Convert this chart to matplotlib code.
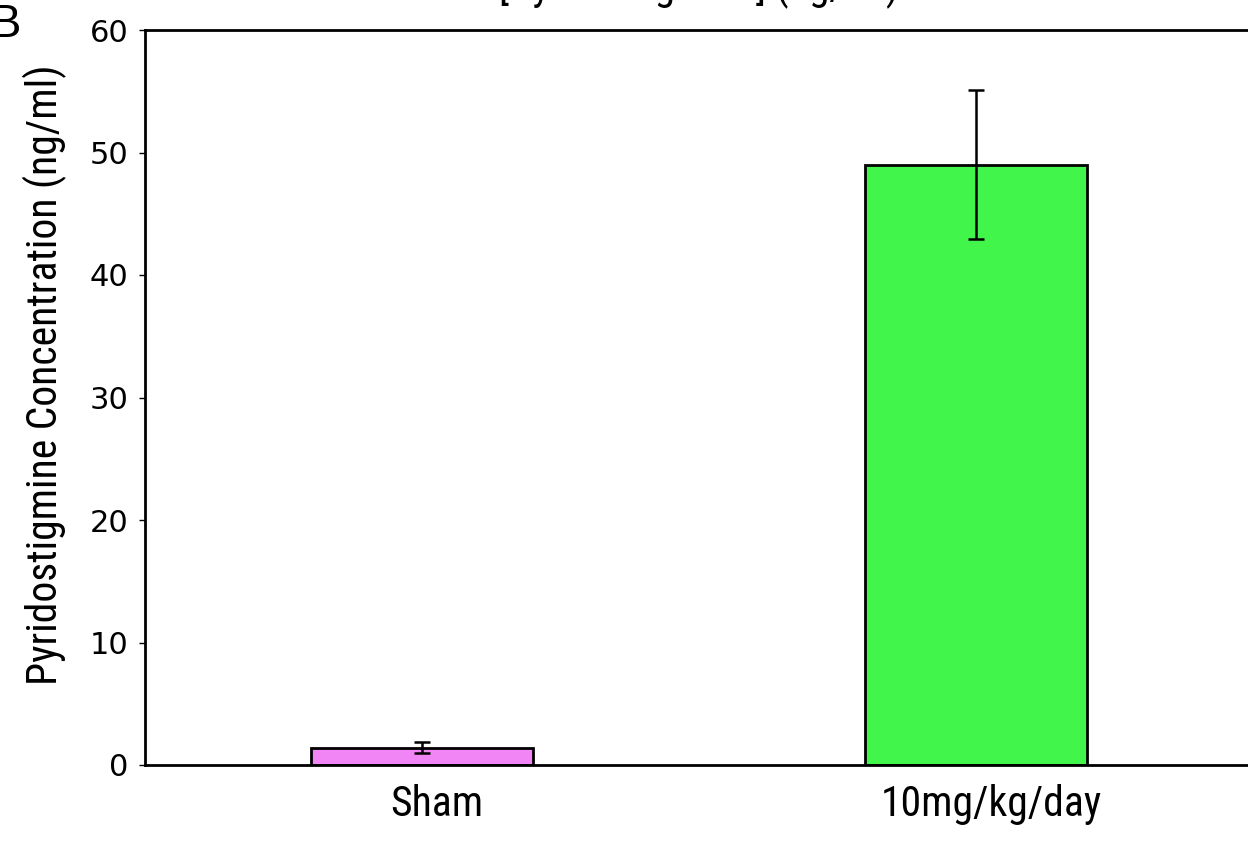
import matplotlib
matplotlib.use("Agg")
from matplotlib import pyplot as plt
from matplotlib.transforms import ScaledTranslation

groups = ["Sham", "10mg/kg/day"]
conc = [1.4, 49.0]
sem = [0.45, 6.1]
colors = ["#f285f5", "#41f54b"]

narrow = ["Roboto Condensed", "DejaVu Sans"]

fig = plt.figure(figsize=(12.48, 8.41), dpi=100)
ax = fig.add_axes([145 / 1248, 76 / 841, 1108 / 1248, 735 / 841])

x = list(range(len(groups)))
ax.bar(x, conc, width=0.4, color=colors, edgecolor="black", linewidth=2, zorder=2)
ax.errorbar(x, conc, yerr=sem, fmt="none", ecolor="black", elinewidth=1.8,
            capsize=6, capthick=1.8, zorder=3)

ax.set_xlim(-0.5, 1.5)
ax.set_ylim(0, 60)
ax.set_yticks(range(0, 61, 10))
ax.set_xticks(x)
ax.set_xticklabels(groups, family=narrow, fontsize=30)
ax.tick_params(axis="x", length=0, pad=14)
ax.tick_params(axis="y", direction="out", length=4, width=1, labelsize=22, pad=8)
# labels in the original sit a little right of the bar centres
for lab in ax.get_xticklabels():
    lab.set_transform(lab.get_transform() + ScaledTranslation(0.15, 0, fig.dpi_scale_trans))
for s in ax.spines.values():
    s.set_linewidth(2)

ax.set_ylabel("Pyridostigmine Concentration (ng/ml)", family=narrow, fontsize=30)
ax.yaxis.set_label_coords(-(145 - 57) / 1108, (765 - 375) / 735)
ax.yaxis.label.set_va("baseline")

fig.text(699 / 1248, 1 + 1 / 841, "[Pyridostigmine] (ng/ml)", family=narrow,
         fontsize=30, ha="center", va="baseline")
fig.text(21 / 1248, 1 - 37 / 841, "B", fontsize=34, ha="right", va="baseline",
         family="Liberation Sans")

fig.savefig("out.png", dpi=100)
